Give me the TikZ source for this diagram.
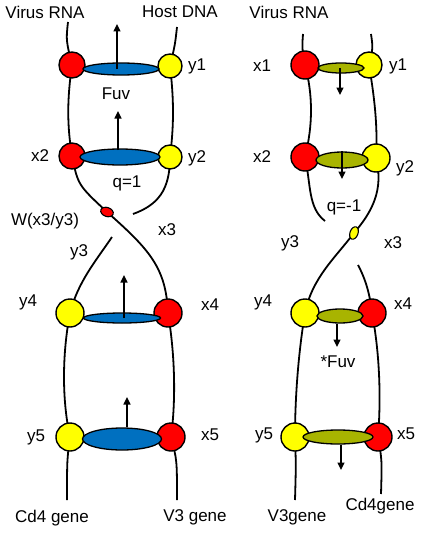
\documentclass[tikz,border=0pt]{standalone}
\usepackage{fontspec}
\setmainfont{Liberation Sans}
\usetikzlibrary{arrows.meta,shapes.geometric}
\definecolor{cred}{RGB}{255,0,0}
\definecolor{cyel}{RGB}{255,255,0}
\definecolor{cblue}{RGB}{0,112,192}
\definecolor{colive}{RGB}{168,180,0}
\begin{document}
\begin{tikzpicture}[x=1pt,y=-1pt,
  strand/.style={line width=1.8pt},
  ball/.style={circle,draw,line width=1.4pt,inner sep=0pt,minimum size=#1},
  rball/.style={ball=#1,fill=cred},
  yball/.style={ball=#1,fill=cyel},
  bell/.style={ellipse,draw,line width=1.3pt,fill=cblue,inner sep=0pt},
  oell/.style={ellipse,draw,line width=1.3pt,fill=colive,inner sep=0pt},
  arr/.style={line width=1.5pt,-{Triangle[length=7.5pt,width=7pt]}},
  lbl/.style={font=\fontsize{17}{20}\selectfont,inner sep=0pt}]
\useasboundingbox (0,0) rectangle (421,535);

% ---------- LEFT ----------
\node[lbl] (LvR) at (45,12) {Virus RNA};
\node[lbl] (LhD) at (180,12) {Host DNA};
\coordinate (Lt1) at (68,22);
\coordinate (Lt2) at (177,27);
\coordinate (Lbr1) at (133,214);
\coordinate (Lbr2) at (112,237);
\coordinate (Lb1) at (67,500);
\coordinate (Lb2) at (177,500);
\coordinate (Lw) at (107,212);

\draw[strand] (Lt1) .. controls (66,40) .. (72,65);
\draw[strand] (Lt2) .. controls (175,45) .. (170,66);
\draw[strand] (72,65) .. controls (67,100) and (67,125) .. (72,156);
\draw[strand] (170,66) .. controls (174,100) and (174,125) .. (170,157);
\draw[strand] (72,156) .. controls (78,185) .. (Lw) .. controls (150,250) and (166,268) .. (168,313);
\draw[strand] (170,157) .. controls (170,190) and (158,205) .. (Lbr1);
\draw[strand] (Lbr2) .. controls (95,262) and (78,282) .. (70,313);
\draw[strand] (70,313) .. controls (62,355) and (62,400) .. (70,437);
\draw[strand] (168,313) .. controls (175,355) and (176,400) .. (171,437);
\draw[strand] (70,437) .. controls (67,460) .. (Lb1);
\draw[strand] (171,437) .. controls (177,460) .. (Lb2);

\node[rball=26pt] (Lx1) at (72,65) {};
\node[yball=24pt] (Ly1) at (170,66) {};
\node[rball=26pt] (Lx2) at (72,156) {};
\node[yball=24pt] (Ly2) at (170,157) {};
\node[yball=28pt] (Ly4) at (70,313) {};
\node[rball=28pt] (Lx4) at (168,313) {};
\node[yball=28pt] (Ly5) at (70,437) {};
\node[rball=28pt] (Lx5) at (171,437) {};
\node[ellipse,draw,line width=1.1pt,fill=cred,inner sep=0pt,minimum width=13pt,minimum height=9pt,rotate=-20] (LwE) at (Lw) {};

\node[bell,minimum width=76pt,minimum height=12pt] (LE1) at (121,69) {};
\node[bell,minimum width=80pt,minimum height=16pt] (LE2) at (120,157) {};
\node[bell,minimum width=77pt,minimum height=10pt] (LE3) at (122,318) {};
\node[bell,minimum width=79pt,minimum height=22pt] (LE4) at (122,439) {};

\coordinate (La1) at (117,24);
\coordinate (La2) at (118,111);
\coordinate (La3) at (124,275);
\coordinate (La4) at (127,397);
\draw[arr] (LE1.center -| La1) -- (La1);
\draw[arr] (118,150) -- (La2);
\draw[arr] (LE3.center -| La3) -- (La3);
\draw[arr] (LE4.north -| La4) -- (La4);

\node[lbl] at (197,66) {y1};
\node[lbl] at (116,94) {Fuv};
\node[lbl] at (40,156) {x2};
\node[lbl] at (197,158) {y2};
\node[lbl] at (127,183) {q=1};
\node[lbl] at (45,221) {W(x3/y3)};
\node[lbl] at (167,230) {x3};
\node[lbl] at (79,252) {y3};
\node[lbl] at (28,302) {y4};
\node[lbl] at (210,305) {x4};
\node[lbl] at (36,437) {y5};
\node[lbl] at (210,435) {x5};
\node[lbl] at (52,518) {Cd4 gene};
\node[lbl] at (195,517) {V3 gene};

% ---------- RIGHT ----------
\node[lbl] (RvR) at (289,12) {Virus RNA};
\coordinate (Rt1) at (303,34);
\coordinate (Rt2) at (371,34);
\coordinate (Rbr1) at (325,221);
\coordinate (Rbr2) at (358,265);
\coordinate (Rw) at (354,233);
\coordinate (Rb1) at (295,500);
\coordinate (Rb2) at (381,494);

\draw[strand] (Rt1) .. controls (302,48) .. (305,65);
\draw[strand] (Rt2) .. controls (373,48) .. (369,65);
\draw[strand] (305,65) .. controls (313,95) and (313,125) .. (305,157);
\draw[strand] (369,65) .. controls (374,95) and (378,125) .. (376,158);
\draw[strand] (305,157) .. controls (311,185) and (308,208) .. (Rbr1);
\draw[strand] (376,158) .. controls (384,190) and (372,212) .. (Rw) .. controls (335,258) and (312,278) .. (305,313);
\draw[strand] (Rbr2) .. controls (366,280) and (370,295) .. (372,313);
\draw[strand] (305,313) .. controls (298,355) and (295,400) .. (295,437);
\draw[strand] (372,313) .. controls (380,355) and (381,400) .. (378,437);
\draw[strand] (295,437) .. controls (296,465) .. (Rb1);
\draw[strand] (378,437) .. controls (382,460) .. (Rb2);

\node[rball=28pt] (Rx1) at (305,65) {};
\node[yball=26pt] (Ry1) at (369,65) {};
\node[rball=28pt] (Rx2) at (305,157) {};
\node[yball=28pt] (Ry2) at (376,158) {};
\node[yball=28pt] (Ry4) at (305,313) {};
\node[rball=28pt] (Rx4) at (372,313) {};
\node[yball=28pt] (Ry5) at (295,437) {};
\node[rball=28pt] (Rx5) at (378,437) {};
\node[ellipse,draw,line width=1.1pt,fill=cyel,inner sep=0pt,minimum width=8pt,minimum height=13pt,rotate=-20] (RwE) at (Rw) {};

\node[oell,minimum width=46pt,minimum height=10pt] (RE1) at (341,68) {};
\node[oell,minimum width=52pt,minimum height=16pt] (RE2) at (342,160) {};
\node[oell,minimum width=46pt,minimum height=14pt] (RE3) at (340,316) {};
\node[oell,minimum width=70pt,minimum height=14pt] (RE4) at (338,437) {};

\coordinate (Ra1) at (340,95);
\coordinate (Ra2) at (342,179);
\coordinate (Ra3) at (337,347);
\coordinate (Ra4) at (341,470);
\draw[arr] (RE1.center -| Ra1) -- (Ra1);
\draw[arr] (RE2.north -| Ra2) -- (Ra2);
\draw[arr] (RE3.south -| Ra3) -- (Ra3);
\draw[arr] (RE4.south -| Ra4) -- (Ra4);

\node[lbl] at (262,66) {x1};
\node[lbl] at (398,66) {y1};
\node[lbl] at (262,157) {x2};
\node[lbl] at (405,168) {y2};
\node[lbl] at (344,207) {q=-1};
\node[lbl] at (290,243) {y3};
\node[lbl] at (393,243) {x3};
\node[lbl] at (263,302) {y4};
\node[lbl] at (403,304) {x4};
\node[lbl] at (338,362) {*Fuv};
\node[lbl] at (264,435) {y5};
\node[lbl] at (406,434) {x5};
\node[lbl] at (297,517) {V3gene};
\node[lbl] at (380,506) {Cd4gene};
\end{tikzpicture}
\end{document}
